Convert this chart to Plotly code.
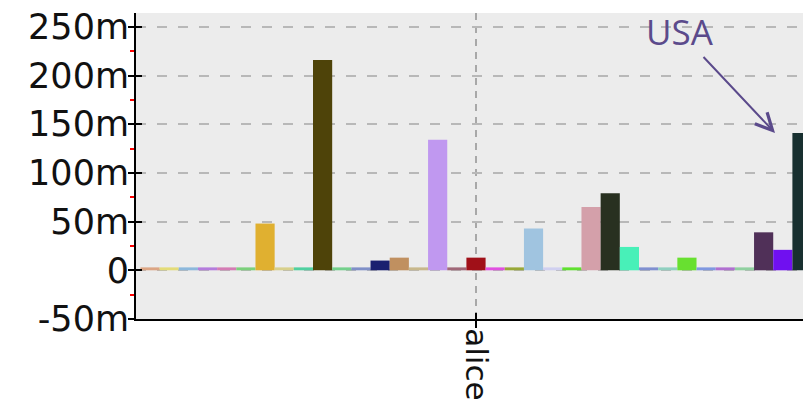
import plotly.graph_objects as go

# ---------------- data ----------------
categories = ["alice"]
series_names = [f"series {i+1}" for i in range(34)] + ["USA"]
series_values = [
    0.003, 0.003, 0.003, 0.003, 0.003, 0.003, 0.048, 0.003, 0.003, 0.216,
    0.003, 0.003, 0.010, 0.013, 0.003, 0.134, 0.003, 0.013, 0.003, 0.003,
    0.043, 0.003, 0.003, 0.065, 0.079, 0.024, 0.003, 0.003, 0.013, 0.003,
    0.003, 0.003, 0.039, 0.021, 0.141,
]
series_colors = [
    "#dca584", "#e4dc78", "#8cb8dc", "#b47cdc", "#d47cb4", "#7cd07c", "#e0b030",
    "#d8d08c", "#50d0a0", "#4e4309", "#74d08c", "#8090c8", "#1a2070", "#c09060",
    "#c8b88c", "#c098f0", "#a06878", "#a01018", "#e050e0", "#98a838", "#a0c4e0",
    "#d0d0f0", "#60e030", "#d4a0aa", "#283020", "#48f0b8", "#8090d0", "#90d0c0",
    "#68e030", "#8098e0", "#b070d0", "#90d0a0", "#503058", "#7010f0", "#183030",
]
y_tick_vals = [-0.05, 0.0, 0.05, 0.10, 0.15, 0.20, 0.25]
y_tick_text = ["-50m", "0", "50m", "100m", "150m", "200m", "250m"]
annotation_text = "USA"
annotation_target = "USA"

# ---------------- figure ----------------
fig = go.Figure()
for name, val, col in zip(series_names, series_values, series_colors):
    fig.add_trace(go.Bar(x=categories, y=[val], name=name,
                         marker=dict(color=col, line=dict(width=0))))

y_tick_font = dict(family="DejaVu Sans", size=35, color="#111111")
x_tick_font = dict(family="DejaVu Sans", size=31, color="#111111")
y_range = [-0.05, 0.2642]
x_range = [-0.5, 0.5]

fig.update_layout(
    width=811, height=401,
    margin=dict(l=128, r=3, t=5, b=90),
    paper_bgcolor="white",
    plot_bgcolor="#ececec",
    barmode="group",
    bargap=0.013,
    bargroupgap=0,
    showlegend=False,
    xaxis=dict(
        type="category", range=x_range, automargin=False,
        showline=True, linecolor="black", linewidth=2,
        ticks="outside", ticklen=7, tickwidth=2, tickcolor="black",
        tickangle=90, tickfont=x_tick_font, ticklabelstandoff=-6,
        ticklabeloverflow="allow",
        showgrid=True, gridcolor="#a8a8a8", gridwidth=2, griddash="7px,6px",
        zeroline=False,
    ),
    yaxis=dict(
        range=y_range, tickmode="array", tickvals=y_tick_vals, ticktext=y_tick_text,
        automargin=False, ticklabeloverflow="allow",
        showline=True, linecolor="black", linewidth=2,
        ticks="outside", ticklen=6, tickwidth=2, tickcolor="black",
        tickfont=y_tick_font, ticklabelstandoff=-8,
        showgrid=True, gridcolor="#b8b8b8", gridwidth=2, griddash="10px,11px",
        zeroline=False,
        minor=dict(tickmode="linear", tick0=0.025, dtick=0.05, ticks="outside",
                   ticklen=4, tickwidth=2, tickcolor="red", showgrid=False),
    ),
    xaxis2=dict(
        overlaying="x", anchor="y2", type="category", range=x_range,
        automargin=False, showticklabels=False, ticks="inside", ticklen=6,
        tickwidth=2, tickcolor="black", showgrid=False, showline=False,
        zeroline=False,
    ),
    yaxis2=dict(
        overlaying="y", anchor="x2", side="left", range=y_range, tickmode="array",
        automargin=False,
        tickvals=y_tick_vals, showticklabels=False, ticks="inside",
        ticklen=6, tickwidth=2, tickcolor="black", showgrid=False,
        showline=False, zeroline=False,
    ),
)

# invisible helper so the overlay axes (inner half of the cross ticks) are drawn
fig.add_trace(go.Scatter(x=categories, y=[None], xaxis="x2", yaxis="y2",
                         showlegend=False, hoverinfo="skip", mode="markers"))

usa_idx = series_names.index(annotation_target)
fig.add_annotation(
    x=0.4397, y=series_values[usa_idx], xref="x", yref="y",
    text=annotation_text, showarrow=True,
    ax=-95, ay=-101, axref="pixel", ayref="pixel",
    arrowhead=5, arrowsize=1.65, arrowwidth=2, arrowcolor="#5b4a8b",
    font=dict(family="Open Sans", size=35, color="#5b4a8b"),
)

fig.write_html("out.html")
